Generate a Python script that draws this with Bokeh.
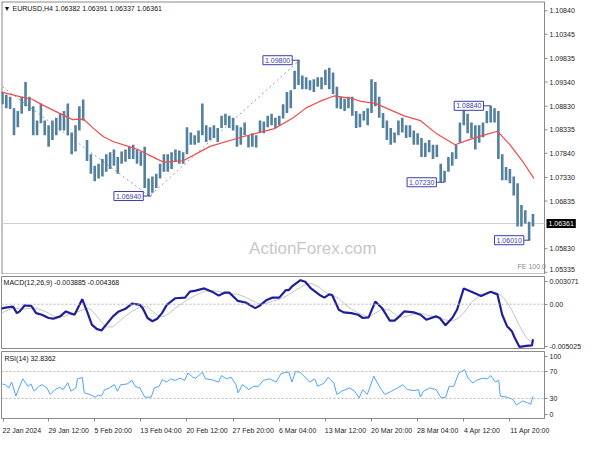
from bokeh.plotting import figure
from bokeh.layouts import column
from bokeh.models import (Range1d, FixedTicker, Label, ColumnDataSource, Span, LinearAxis)
from bokeh.embed import file_html
from bokeh.resources import INLINE
from bokeh.core.properties import value

# ---------------- data ----------------
bar_high = [
    1.0913, 1.0907, 1.0903, 1.0879, 1.0873, 1.0903, 1.0934, 1.0903, 1.0883, 1.0853,
    1.0889, 1.0853, 1.0843, 1.0853, 1.0859, 1.0867, 1.0873, 1.0889, 1.0828, 1.0843,
    1.0883, 1.0897, 1.0812, 1.0782, 1.0758, 1.0762, 1.0772, 1.0782, 1.0786, 1.0792,
    1.0776, 1.0788, 1.0792, 1.0798, 1.0802, 1.0792, 1.0788, 1.0798, 1.0731, 1.0735,
    1.0741, 1.0762, 1.0782, 1.0782, 1.0786, 1.0792, 1.0790, 1.0786, 1.0839, 1.0828,
    1.0822, 1.0832, 1.0889, 1.0843, 1.0839, 1.0843, 1.0837, 1.0863, 1.0867, 1.0863,
    1.0859, 1.0843, 1.0839, 1.0849, 1.0822, 1.0826, 1.0822, 1.0853, 1.0851, 1.0863,
    1.0867, 1.0859, 1.0863, 1.0887, 1.0913, 1.0917, 1.0958, 1.0980, 1.0948, 1.0944,
    1.0938, 1.0940, 1.0944, 1.0944, 1.0960, 1.0964, 1.0954, 1.0924, 1.0903, 1.0899,
    1.0903, 1.0903, 1.0873, 1.0867, 1.0873, 1.0879, 1.0940, 1.0934, 1.0903, 1.0869,
    1.0853, 1.0837, 1.0828, 1.0853, 1.0859, 1.0843, 1.0843, 1.0832, 1.0826, 1.0816,
    1.0806, 1.0812, 1.0802, 1.0802, 1.0762, 1.0747, 1.0776, 1.0786, 1.0802, 1.0849,
    1.0883, 1.0867, 1.0849, 1.0843, 1.0843, 1.0849, 1.0873, 1.0884, 1.0879, 1.0873,
    1.0782, 1.0755, 1.0751, 1.0735, 1.0721, 1.0675, 1.0664, 1.0640, 1.0656]
bar_low = [
    1.0887, 1.0879, 1.0877, 1.0822, 1.0839, 1.0867, 1.0883, 1.0873, 1.0822, 1.0822,
    1.0847, 1.0822, 1.0798, 1.0812, 1.0822, 1.0832, 1.0832, 1.0822, 1.0782, 1.0788,
    1.0832, 1.0853, 1.0768, 1.0741, 1.0725, 1.0731, 1.0735, 1.0745, 1.0751, 1.0758,
    1.0741, 1.0762, 1.0766, 1.0772, 1.0772, 1.0762, 1.0758, 1.0711, 1.0694, 1.0701,
    1.0711, 1.0731, 1.0745, 1.0745, 1.0751, 1.0766, 1.0762, 1.0762, 1.0782, 1.0802,
    1.0802, 1.0806, 1.0822, 1.0808, 1.0812, 1.0816, 1.0808, 1.0837, 1.0843, 1.0837,
    1.0832, 1.0798, 1.0802, 1.0822, 1.0796, 1.0798, 1.0796, 1.0828, 1.0826, 1.0839,
    1.0843, 1.0837, 1.0843, 1.0857, 1.0869, 1.0879, 1.0919, 1.0928, 1.0919, 1.0919,
    1.0917, 1.0913, 1.0924, 1.0919, 1.0928, 1.0919, 1.0909, 1.0879, 1.0877, 1.0873,
    1.0879, 1.0863, 1.0837, 1.0839, 1.0853, 1.0843, 1.0869, 1.0883, 1.0859, 1.0837,
    1.0812, 1.0802, 1.0806, 1.0822, 1.0828, 1.0816, 1.0818, 1.0802, 1.0802, 1.0776,
    1.0776, 1.0786, 1.0772, 1.0776, 1.0723, 1.0723, 1.0745, 1.0758, 1.0772, 1.0806,
    1.0843, 1.0826, 1.0816, 1.0792, 1.0806, 1.0818, 1.0847, 1.0849, 1.0849, 1.0772,
    1.0727, 1.0727, 1.0721, 1.0695, 1.0630, 1.0630, 1.0636, 1.0601, 1.0630]

ma_idx = [-0.5, 4.5, 7.75, 10.25, 12.75, 16.25, 18.25, 20, 21.25, 23.75, 26.25, 28.75, 32.75,
          35.25, 37.75, 40.25, 42, 44.5, 47, 54, 62.5, 70.75, 75.75, 79, 82.5, 86.25, 90.75,
          93.25, 97, 104.5, 108.75, 112.75, 117.75, 121.25, 125.25, 128.75, 132, 135.25, 138.25]
ma_val = [1.09134, 1.09033, 1.08978, 1.08865, 1.08764, 1.08628, 1.08547, 1.08561, 1.08547,
          1.08359, 1.08189, 1.08088, 1.07986, 1.07920, 1.07818, 1.07717, 1.07650, 1.07671,
          1.07683, 1.07986, 1.08189, 1.08359, 1.08594, 1.08796, 1.08932, 1.09047, 1.08998,
          1.08932, 1.08891, 1.08628, 1.08527, 1.08264, 1.08021, 1.08122, 1.08223, 1.08304,
          1.08021, 1.07677, 1.07313]

macd_idx = [-0.5, 0.75, 2.75, 3.75, 4.5, 5.75, 7.5, 8.75, 10.25, 12,
            13.25, 15, 16.5, 17.5, 18.75, 20.75, 22, 23.25, 24.5, 25.75,
            27, 28.75, 30.25, 32, 33.75, 35.75, 36.5, 37.75, 39, 40.25,
            41.5, 42.75, 45, 47.5, 48.75, 50.25, 52.5, 54.5, 56.25, 57.75,
            59, 61.25, 63.25, 65.75, 67, 68.75, 70.25, 72, 73.75, 74.5,
            75.25, 77.5, 78.75, 80.25, 82.5, 83.75, 85, 85.75, 87.5, 88.75,
            90.75, 92.5, 93.75, 95.25, 97, 98.75, 100.75, 102, 103.25, 104.5,
            107, 108.75, 110.25, 112.75, 113.75, 115.25, 117, 118.25, 120, 122,
            124.5, 127, 128.75, 130, 131.25, 132.5, 133.25, 134.5, 136.25, 137.75,
            138]
macd_val = [-0.00051, -0.00038, -0.00027, -0.00099, -0.00080, -0.00014, -0.00019, -0.00099, -0.00117, -0.00153,
            -0.00161, -0.00135, -0.00080, -0.00099, -0.00117, 0.00055, -0.00080, -0.00227, -0.00274, -0.00292,
            -0.00227, -0.00135, -0.00080, -0.00051, 0.00008, -0.00008, -0.00044, -0.00153, -0.00189, -0.00161,
            -0.00099, -0.00008, 0.00066, 0.00073, 0.00139, 0.00150, 0.00175, 0.00139, 0.00095, 0.00128,
            0.00128, 0.00036, 0.00019, -0.00044, -0.00014, 0.00047, 0.00073, 0.00073, 0.00157, 0.00157,
            0.00194, 0.00266, 0.00248, 0.00175, 0.00102, 0.00073, 0.00109, 0.00102, -0.00062, -0.00091,
            -0.00099, -0.00117, -0.00153, -0.00146, 0.00030, -0.00044, -0.00183, -0.00183, -0.00135, -0.00080,
            -0.00091, -0.00117, -0.00172, -0.00135, -0.00153, -0.00233, -0.00153, -0.00062, 0.00175, 0.00139,
            0.00091, 0.00139, 0.00109, -0.00117, -0.00244, -0.00299, -0.00372, -0.00474, -0.00463, -0.00456,
            -0.003885]
signal_val = [-0.00109, -0.00077, -0.00044, -0.00044, -0.00055, -0.00055, -0.00044, -0.00044, -0.00066, -0.00098,
              -0.00131, -0.00142, -0.00131, -0.00109, -0.00098, -0.00066, -0.00044, -0.00066, -0.00131, -0.00197,
              -0.00252, -0.00252, -0.00197, -0.00131, -0.00077, -0.00033, -0.00022, -0.00033, -0.00077, -0.00120,
              -0.00142, -0.00120, -0.00044, 0.00033, 0.00066, 0.00098, 0.00142, 0.00153, 0.00142, 0.00120,
              0.00120, 0.00109, 0.00077, 0.00022, 0.00000, 0.00011, 0.00033, 0.00055, 0.00088, 0.00109,
              0.00131, 0.00186, 0.00219, 0.00230, 0.00186, 0.00142, 0.00109, 0.00098, 0.00066, 0.00011,
              -0.00055, -0.00098, -0.00120, -0.00142, -0.00098, -0.00055, -0.00066, -0.00109, -0.00142, -0.00142,
              -0.00109, -0.00098, -0.00120, -0.00142, -0.00153, -0.00175, -0.00186, -0.00164, -0.00098, 0.00022,
              0.00109, 0.00131, 0.00120, 0.00088, 0.00022, -0.00066, -0.00131, -0.00241, -0.00372, -0.00427,
              -0.004368]

rsi_idx = [0, 0.75, 1.6, 2.4, 3.5, 4.3, 5.3, 6.6, 7.4, 8.25,
           9.5, 10.3, 11.6, 12.4, 13.7, 14.9, 15.75, 17, 17.8, 19.1,
           19.5, 20.75, 21.3, 22.8, 24.1, 24.9, 25.75, 26.6, 27.8, 29.1,
           29.9, 30.75, 32.4, 33.7, 34.5, 35.75, 37, 38.7, 39.5, 40.75,
           41.6, 42.8, 43.7, 44.9, 46.2, 47.4, 48.25, 49.5, 50.3, 52,
           52.8, 54.5, 56.2, 57, 58.25, 59.5, 60.75, 61.3, 62.4, 64.1,
           65.3, 66.6, 67.8, 69.5, 71.2, 72.4, 73.7, 74.5, 75.3, 76.2,
           77.4, 78.7, 79.9, 81.2, 82, 83.7, 84.7, 86.2, 87, 88.25,
           90.3, 91.6, 92.8, 93.7, 94.9, 96.6, 97.4, 98.25, 99.5, 101.2,
           102.8, 104.1, 105.3, 107, 108.25, 108.7, 109.5, 111.2, 112.8, 114.1,
           115.3, 116.2, 117.4, 118.7, 120.2, 121.2, 122.4, 123.25, 124.9, 126.2,
           127, 128.25, 129.1, 129.5, 131.2, 132.8, 133.7, 135.3, 136.6, 137.4,
           138]
rsi_val = [51.4, 50.5, 45.6, 54.4, 33.4, 45.6, 59.2, 48.0, 51.4, 40.7,
           48.0, 50.5, 45.6, 35.8, 43.1, 46.6, 43.1, 53.4, 40.7, 45.6,
           59.2, 61.2, 38.3, 35.8, 31.9, 34.8, 33.4, 43.1, 45.6, 50.5,
           40.7, 50.5, 51.4, 56.8, 48.0, 45.6, 31.9, 31.9, 45.6, 48.0,
           57.8, 54.4, 59.2, 56.8, 60.2, 56.8, 68.0, 61.7, 60.2, 69.0,
           59.2, 57.8, 54.4, 64.1, 59.2, 61.7, 50.5, 38.3, 50.5, 43.1,
           48.0, 48.0, 56.8, 59.2, 54.4, 66.6, 69.0, 69.0, 54.4, 70.0,
           69.0, 61.7, 54.4, 59.2, 48.0, 52.9, 61.7, 52.9, 35.8, 40.7,
           45.6, 40.7, 30.9, 43.1, 35.8, 63.2, 54.4, 45.6, 35.8, 40.7,
           45.6, 50.5, 43.1, 41.7, 43.1, 31.9, 40.7, 45.6, 43.1, 30.9,
           31.9, 48.0, 48.0, 68.0, 72.9, 59.2, 52.9, 56.8, 60.2, 59.2,
           64.1, 54.4, 56.8, 33.4, 31.9, 28.5, 20.2, 26.1, 23.6, 21.2,
           32.84]

date_idx = [0.25, 12, 24, 36, 48, 60, 72, 84, 96, 108, 120, 132]
date_labels = ["22 Jan 2024", "29 Jan 12:00", "5 Feb 20:00", "13 Feb 04:00", "20 Feb 12:00",
               "27 Feb 20:00", "6 Mar 04:00", "13 Mar 12:00", "20 Mar 20:00", "28 Mar 04:00",
               "4 Apr 12:00", "11 Apr 20:00"]

price_ticks = [1.10840, 1.10345, 1.09835, 1.09340, 1.08830, 1.08335, 1.07840,
               1.07330, 1.06835, 1.05830, 1.05335]
last_price = 1.06361

zz_idx = [-36.5, 38.25, 77.25]
zz_val = [1.1144, 1.0694, 1.0980]

pivot_text = ["1.09800", "1.06940", "1.07230", "1.08840", "1.06010"]
pivot_val = [1.0980, 1.0694, 1.0723, 1.0884, 1.0601]
pivot_box_idx = [67.75, 29.0, 105.25, 117.5, 128.0]
pivot_bar_idx = [77.25, 38.75, 115.0, 127.0, 137.25]

# ---------------- styling ----------------
FONT = "Liberation Sans"
FS = "7px"
W = 584
BL, BR = 1, 40
BAR = "#52809e"
FRAME = "#8a8a8a"
LBLUE = "#3c3caa"
TXT = "#222222"
X0, X1 = -0.25, 141
FRAME_W = W - BL - BR                 # plot-area width of the indicator panels
PPI = FRAME_W / (X1 - X0)             # pixels per bar slot
xr = Range1d(X0, X1)
MAIN_FW = W - BL                      # main panel plot area also covers the price strip
MAIN_FH = 273
Y0, Y1 = 1.05288, 1.11036


def style_yaxis(ax):
    ax.axis_line_color = FRAME
    ax.major_tick_line_color = FRAME
    ax.major_tick_out = 3
    ax.major_tick_in = 0
    ax.minor_tick_line_color = None
    ax.major_label_standoff = 2
    ax.major_label_text_font = FONT
    ax.major_label_text_font_size = FS
    ax.major_label_text_color = TXT


def base(fh, yr, top, bottom):
    f = figure(frame_width=FRAME_W, frame_height=fh, x_range=xr, y_range=yr,
               output_backend="svg", toolbar_location=None, y_axis_location="right",
               x_axis_location=None, min_border_left=BL, min_border_right=BR,
               min_border_top=top, min_border_bottom=bottom)
    f.grid.visible = False
    f.outline_line_color = FRAME
    f.background_fill_color = "white"
    f.border_fill_color = "white"
    style_yaxis(f.yaxis[0])
    return f


# ---- main price panel ----
p = figure(frame_width=MAIN_FW, frame_height=MAIN_FH, x_range=Range1d(X0, X0 + MAIN_FW / PPI),
           y_range=Range1d(Y0, Y1), output_backend="svg", toolbar_location=None,
           x_axis_location=None, y_axis_location=None, min_border_left=BL,
           min_border_right=0, min_border_top=1, min_border_bottom=0)
p.grid.visible = False
p.outline_line_color = None
p.background_fill_color = "white"
p.border_fill_color = "white"

# frame lines (left, top, bottom) and the price scale
p.segment(x0=[X0, X0, X0], y0=[Y0, Y1, Y0], x1=[X0, X1, X1], y1=[Y1, Y1, Y0],
          line_color=FRAME, line_width=2)
p.segment(x0=[X1], y0=[Y0], x1=[X1], y1=[Y1], line_color=FRAME, line_width=1)
p.segment(x0=[X1] * len(price_ticks), y0=price_ticks,
          x1=[X1 + 3 / PPI] * len(price_ticks), y1=price_ticks, line_color=FRAME, line_width=1)
p.text(x=[X1 + 5 / PPI] * (len(price_ticks) - 1), y=price_ticks[:-1],
       text=["%.5f" % v for v in price_ticks[:-1]], text_align="left", text_baseline="middle",
       text_font=value(FONT), text_font_size=value(FS), text_color=TXT)
# lowest scale label sits right on the panel edge: lift it a little so it is not cut
p.text(x=[X1 + 5 / PPI], y=price_ticks[-1:], text=["%.5f" % price_ticks[-1]],
       text_align="left", text_baseline="middle", y_offset=-2.5,
       text_font=value(FONT), text_font_size=value(FS), text_color=TXT)

p.segment(x0=[X0], y0=[last_price], x1=[X1], y1=[last_price], line_color="#cfcfcf", line_width=1)
p.add_layout(Label(x=80.75, y=1.05835, text="ActionForex.com", text_align="center",
                   text_baseline="middle", text_font=FONT, text_font_size="17px",
                   text_color="#c8c8c8"))

p.line(zz_idx, zz_val, line_color="#9a9a9a", line_dash="2 3", line_width=1)
p.segment(x0="i", y0="lo", x1="i", y1="hi", line_color=BAR, line_width=2.6,
          source=ColumnDataSource(dict(i=list(range(len(bar_high))), lo=bar_low, hi=bar_high)))
p.line(ma_idx, ma_val, line_color="#f24a4a", line_width=1.2)

for t, v, bx, bi in zip(pivot_text, pivot_val, pivot_box_idx, pivot_bar_idx):
    p.segment(x0=[bx + 7.5], y0=[v], x1=[bi], y1=[v], line_color=LBLUE, line_width=1)
    p.add_layout(Label(x=bx, y=v, text=t, text_align="left", text_baseline="middle",
                       text_font=FONT, text_font_size=FS, text_color=LBLUE,
                       background_fill_color="white", border_line_color=LBLUE,
                       border_line_width=1, padding=2))

p.add_layout(Label(x=0.3, y=1.10895, text="\u25BC EURUSD,H4  1.06382 1.06391 1.06337 1.06361",
                   text_align="left", text_baseline="middle", text_font=FONT,
                   text_font_size=FS, text_color="#111111"))
p.add_layout(Label(x=134.0, y=1.05451, text="FE 100.0", text_align="left",
                   text_baseline="middle", text_font=FONT, text_font_size=FS,
                   text_color="#8c8c8c"))
p.add_layout(Label(x=X1 + 2 / PPI, y=last_price, text="1.06361", text_align="left",
                   text_baseline="middle", text_font=FONT, text_font_size=FS,
                   text_color="white", background_fill_color="black", padding=2))

# ---- MACD panel ----
m = base(73, Range1d(-0.005025, 0.003071), 2, 0)
m.yaxis[0].ticker = FixedTicker(ticks=[0.00255, 0, -0.0047])
m.yaxis[0].major_label_overrides = {0.00255: "0.003071", 0: "0.00", -0.0047: "-0.005025"}
m.add_layout(Span(location=0, dimension="width", line_color="#b4b4b4", line_dash="2 2", line_width=1))
m.line(macd_idx, signal_val, line_color="#c4c4c4", line_width=1)
m.line(macd_idx, macd_val, line_color="#1f1f9e", line_width=2.2)
m.add_layout(Label(x=0.3, y=0.00245, text="MACD(12,26,9) -0.003885 -0.004368", text_align="left",
                   text_baseline="middle", text_font=FONT, text_font_size=FS, text_color="#111111"))

# ---- RSI panel ----
r = base(67, Range1d(0, 100), 2, 14)
r.yaxis[0].ticker = FixedTicker(ticks=[92.4, 70, 30, 6.6])
r.yaxis[0].major_label_overrides = {92.4: "100", 70: "70", 30: "30", 6.6: "0"}
for lv in (70, 30):
    r.add_layout(Span(location=lv, dimension="width", line_color="#b4b4b4", line_dash="2 2", line_width=1))
r.line(rsi_idx, rsi_val, line_color="#4da3ff", line_width=1)
r.add_layout(Label(x=0.5, y=89.5, text="RSI(14) 32.8362", text_align="left",
                   text_baseline="middle", text_font=FONT, text_font_size=FS, text_color="#111111"))

# date axis: labels left-aligned at their tick (label centre half a label-width to the right),
# the tick marks themselves drawn as minor ticks at the true positions
lab_pos = [d + (len(s) * 3.35 / 2.0) / PPI for d, s in zip(date_idx, date_labels)]
xb = LinearAxis(ticker=FixedTicker(ticks=lab_pos, minor_ticks=date_idx),
                major_label_overrides={pos: s for pos, s in zip(lab_pos, date_labels)},
                axis_line_color=FRAME, major_tick_line_color=None,
                minor_tick_line_color=FRAME, minor_tick_out=3, minor_tick_in=0,
                major_label_standoff=2, major_label_text_font=FONT,
                major_label_text_font_size=FS, major_label_text_color=TXT)
r.add_layout(xb, "below")

layout = column(p, m, r, spacing=0)
open("out.html", "w").write(file_html(layout, INLINE))
